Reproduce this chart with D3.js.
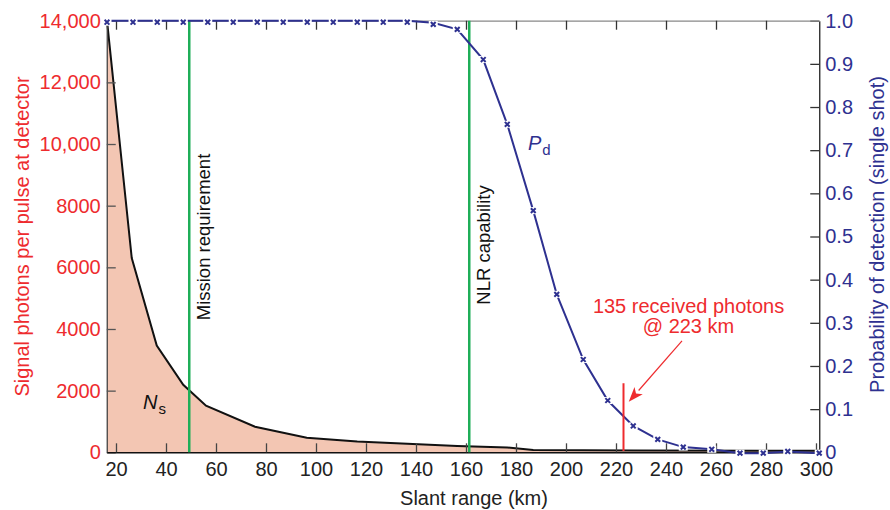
<!DOCTYPE html>
<html>
<head>
<meta charset="utf-8">
<script src="https://cdn.jsdelivr.net/npm/d3@7"></script>
<style>
  body { margin: 0; background: #fff; }
  svg text { font-family: "Liberation Sans", Arial, Helvetica, sans-serif; }
</style>
</head>
<body>
<div id="chart"></div>
<script>
// slant range (km) of each sample
const rangeKm = [16.4, 26.8, 36.5, 46.9, 56.7, 66.9, 76.5, 86.9, 96.5, 106.9, 116.5, 126.9, 136.5, 146.9,
  156.5, 166.9, 176.5, 186.9, 196.3, 206.9, 216.7, 226.9, 236.7, 246.9, 258.3, 269.6, 278.9, 288.7, 301.3];
// probability of detection (single shot)
const pd = [1, 1, 1, 1, 1, 1, 1, 1, 1, 1, 1, 1, 1, 0.995,
  0.98, 0.91, 0.76, 0.56, 0.366, 0.215, 0.12, 0.061, 0.03, 0.012, 0.007, -0.002, -0.002, 0.002, -0.002];
// signal photons per pulse (vertices of the Ns curve)
const nsKm = [16.4, 26.3, 36.3, 46.9, 56, 75.6, 96.3, 116.5, 136.5, 156.5, 176.5, 186.9, 226.9, 301.3];
const ns = [14000, 6300, 3460, 2190, 1510, 830, 475, 350, 276, 204, 156, 72, 60, 50];

const xTicks = [20, 40, 60, 80, 100, 120, 140, 160, 180, 200, 220, 240, 260, 280, 300];
const leftTicks = [0, 2000, 4000, 6000, 8000, 10000, 12000, 14000];
const rightTicks = [0, 0.1, 0.2, 0.3, 0.4, 0.5, 0.6, 0.7, 0.8, 0.9, 1.0];

const missionKm = 49.3;
const nlrKm = 161.3;
const markKm = 223;

(function () {
  const W = 890, H = 510;
  const pLeft = 106.75, pRight = 819.25, pTop = 20.7, pBottom = 452.3;

  const svg = d3.select("#chart").append("svg").attr("width", W).attr("height", H);

  const x = d3.scaleLinear().domain([16.3, 301.3]).range([pLeft, pRight]);
  const yL = d3.scaleLinear().domain([0, 14000]).range([pBottom, pTop]);
  const yR = d3.scaleLinear().domain([0, 1]).range([pBottom, pTop]);

  const RED = "#ee2b2e", NAVY = "#2e3190", GREEN = "#1fae58", FILL = "#f3c6b3";

  // area under Ns
  const nsPts = nsKm.map((k, i) => [k, ns[i]]);
  svg.append("path")
    .datum(nsPts)
    .attr("d", d3.area().x(d => x(d[0])).y0(yL(0)).y1(d => yL(d[1])))
    .attr("fill", FILL);

  svg.append("path")
    .datum(nsPts)
    .attr("d", d3.line().x(d => x(d[0])).y(d => yL(d[1])))
    .attr("fill", "none").attr("stroke", "#111").attr("stroke-width", 2);

  // axes
  const fmtL = d => d >= 10000 ? d3.format(",")(d) : String(d);
  const fmtR = d => d === 0 ? "0" : d3.format(".1f")(d);

  const gL = svg.append("g").attr("transform", `translate(${pLeft},0)`)
    .call(d3.axisLeft(yL).tickValues(leftTicks).tickSize(-9).tickSizeOuter(0).tickPadding(6).tickFormat(fmtL));
  gL.selectAll("text").attr("fill", RED).style("font-size", "20px");
  gL.select(".domain").attr("stroke", "#444").attr("stroke-width", 1.3);
  gL.selectAll(".tick line").attr("stroke", "#555").attr("stroke-width", 1.3);

  const gR = svg.append("g").attr("transform", `translate(${pRight},0)`)
    .call(d3.axisRight(yR).tickValues(rightTicks).tickSize(-9).tickSizeOuter(0).tickPadding(6).tickFormat(fmtR));
  gR.selectAll("text").attr("fill", NAVY).style("font-size", "20px");
  gR.select(".domain").attr("stroke", "#222").attr("stroke-width", 1.3);
  gR.selectAll(".tick line").attr("stroke", "#333").attr("stroke-width", 1.3);

  const gB = svg.append("g").attr("transform", `translate(0,${pBottom})`)
    .call(d3.axisBottom(x).tickValues(xTicks).tickSize(-9).tickSizeOuter(0).tickPadding(10));
  gB.selectAll("text").attr("fill", "#222").style("font-size", "20px");
  gB.select(".domain").attr("stroke", "#111").attr("stroke-width", 1.5);
  gB.selectAll(".tick line").attr("stroke", "#444").attr("stroke-width", 1.3);

  const gT = svg.append("g").attr("transform", `translate(0,${pTop})`)
    .call(d3.axisTop(x).tickValues(xTicks.filter(d => d < 300)).tickSize(-9).tickSizeOuter(0).tickFormat(""));
  gT.select(".domain").attr("stroke", "#888").attr("stroke-width", 1.3);
  gT.selectAll(".tick line").attr("stroke", "#333").attr("stroke-width", 1.3);

  // axis titles
  svg.append("text").attr("transform", `translate(29,${(pTop + pBottom) / 2}) rotate(-90)`)
    .attr("text-anchor", "middle").attr("fill", RED).style("font-size", "20px")
    .text("Signal photons per pulse at detector");
  svg.append("text").attr("transform", `translate(884,${(pTop + pBottom) / 2 - 2}) rotate(-90)`)
    .attr("text-anchor", "middle").attr("fill", NAVY).style("font-size", "20px")
    .text("Probability of detection (single shot)");
  svg.append("text").attr("x", 474).attr("y", 505)
    .attr("text-anchor", "middle").attr("fill", "#222").style("font-size", "20px")
    .text("Slant range (km)");

  // requirement lines
  [[missionKm, "Mission requirement", 237], [nlrKm, "NLR capability", 245]].forEach(([k, label, cy]) => {
    svg.append("line")
      .attr("x1", x(k)).attr("x2", x(k)).attr("y1", pTop).attr("y2", pBottom)
      .attr("stroke", GREEN).attr("stroke-width", 2.5);
    svg.append("text").attr("transform", `translate(${x(k) + 21},${cy}) rotate(-90)`)
      .attr("text-anchor", "middle").attr("fill", "#111").style("font-size", "18.5px")
      .text(label);
  });

  // Pd curve
  const pdPts = rangeKm.map((k, i) => [k, pd[i]]);
  svg.append("path")
    .datum(pdPts)
    .attr("d", d3.line().x(d => x(d[0])).y(d => yR(d[1])))
    .attr("fill", "none").attr("stroke", NAVY).attr("stroke-width", 2);

  const mk = svg.append("g").selectAll("g").data(pdPts).join("g")
    .attr("transform", d => `translate(${x(d[0])},${yR(d[1]) + (d[1] >= 0.99 ? 1.5 : 0)})`);
  mk.append("rect").attr("x", -4.5).attr("y", -3.5).attr("width", 9).attr("height", 7).attr("fill", "#fff");
  mk.append("path").attr("d", "M-2.4,-2.4L2.4,2.4M-2.4,2.4L2.4,-2.4")
    .attr("stroke", NAVY).attr("stroke-width", 2);

  // series labels
  const pdLab = svg.append("text").attr("x", x(184.8)).attr("y", yR(0.70))
    .attr("fill", NAVY).style("font-size", "20px");
  pdLab.append("tspan").style("font-style", "italic").text("P");
  pdLab.append("tspan").attr("dy", 5).attr("dx", 1).style("font-size", "15px").text("d");

  const nsLab = svg.append("text").attr("x", x(30.8)).attr("y", yL(1405))
    .attr("fill", "#111").style("font-size", "20px");
  nsLab.append("tspan").style("font-style", "italic").text("N");
  nsLab.append("tspan").attr("dy", 5).attr("dx", 1).style("font-size", "15px").text("s");

  // 223 km marker and annotation
  svg.append("line")
    .attr("x1", x(markKm)).attr("x2", x(markKm)).attr("y1", yR(0.003)).attr("y2", yR(0.16))
    .attr("stroke", RED).attr("stroke-width", 2);

  const tail = [x(246.4), yR(0.258)], tip = [x(225.1), yR(0.117)];
  const ang = Math.atan2(tip[1] - tail[1], tip[0] - tail[0]);
  const hl = 15, hw = 5.5;
  const base = [tip[0] - hl * Math.cos(ang), tip[1] - hl * Math.sin(ang)];
  svg.append("line")
    .attr("x1", tail[0]).attr("y1", tail[1]).attr("x2", base[0]).attr("y2", base[1])
    .attr("stroke", RED).attr("stroke-width", 1.2);
  svg.append("path")
    .attr("d", `M${tip[0]},${tip[1]}L${base[0] - hw * Math.sin(ang)},${base[1] + hw * Math.cos(ang)}` +
      `L${base[0] + 4 * Math.cos(ang)},${base[1] + 4 * Math.sin(ang)}` +
      `L${base[0] + hw * Math.sin(ang)},${base[1] - hw * Math.cos(ang)}Z`)
    .attr("fill", RED);

  const ann = svg.append("text").attr("text-anchor", "middle").attr("fill", RED).style("font-size", "20px");
  ann.append("tspan").attr("x", x(249)).attr("y", yR(0.322)).text("135 received photons");
  ann.append("tspan").attr("x", x(249)).attr("y", yR(0.276)).text("@ 223 km");
})();
</script>
</body>
</html>
